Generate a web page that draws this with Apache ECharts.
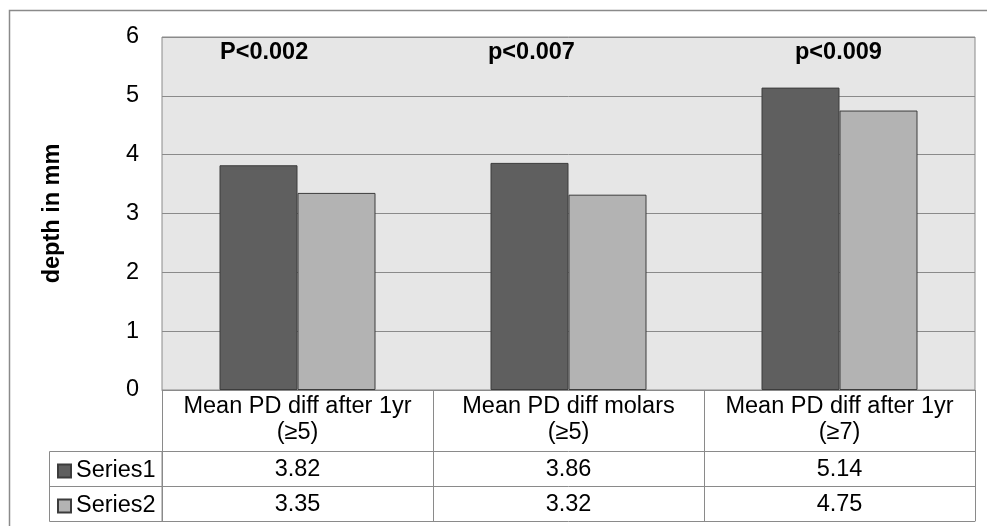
<!DOCTYPE html>
<html>
<head>
<meta charset="utf-8">
<script src="https://cdn.jsdelivr.net/npm/echarts@6/dist/echarts.min.js"></script>
<style>
html,body{margin:0;padding:0;background:#fff;}
#chart{width:987px;height:526px;}
</style>
</head>
<body>
<div id="chart"></div>
<script>
// ---- data ----
const categories = ['Mean PD diff after 1yr\n(≥5)', 'Mean PD diff molars\n(≥5)', 'Mean PD diff after 1yr\n(≥7)'];
const seriesNames = ['Series1', 'Series2'];
const series1 = [3.82, 3.86, 5.14];
const series2 = [3.35, 3.32, 4.75];
const pLabels = ['P<0.002', 'p<0.007', 'p<0.009'];
const yTicks = [0, 1, 2, 3, 4, 5, 6];

// ---- layout ----
const FONT = 'Liberation Sans, Arial, Helvetica, sans-serif';
const FS = 23.5;
const LINE = '#8a8a8a';
const gridLeft = 162, gridRight = 987 - 975, gridTop = 37, gridBottomY = 390;
const catRowH = 61, dataRowH = 35;
const pLabelX = [220, 488, 795];

const chart = echarts.init(document.getElementById('chart'), null, {renderer: 'canvas'});

function rowAxis(offset, labels, tickLen, labelOpts) {
  return {
    type: 'category', data: labels, position: 'bottom', offset: offset, gridIndex: 0,
    boundaryGap: true,
    axisLine: {show: true, lineStyle: {color: LINE, width: 1}},
    axisTick: {show: tickLen > 0, length: tickLen, interval: 0, lineStyle: {color: LINE, width: 1}},
    axisLabel: Object.assign({show: true, interval: 0, color: '#000', fontFamily: FONT, fontSize: FS}, labelOpts || {}),
    splitLine: {show: false}
  };
}

const option = {
  backgroundColor: '#fff',
  animation: false,
  grid: {
    left: gridLeft, right: gridRight, top: gridTop, bottom: 526 - gridBottomY,
    show: true, backgroundColor: '#e6e6e6', borderColor: LINE, borderWidth: 1
  },
  legend: [
    {data: [seriesNames[0]], orient: 'vertical', left: 52, top: 454, itemWidth: 13, itemHeight: 13, itemGap: 0,
     textStyle: {color: '#000', fontFamily: FONT, fontSize: FS}, icon: 'rect'},
    {data: [seriesNames[1]], orient: 'vertical', left: 52, top: 489, itemWidth: 13, itemHeight: 13, itemGap: 0,
     textStyle: {color: '#000', fontFamily: FONT, fontSize: FS}, icon: 'rect'}
  ],
  xAxis: [
    rowAxis(0, categories, catRowH, {margin: 30, lineHeight: 26, verticalAlign: 'middle', align: 'center'}),
    rowAxis(catRowH, series1.map(v => v.toFixed(2)), dataRowH, {margin: 19, verticalAlign: 'middle'}),
    rowAxis(catRowH + dataRowH, series2.map(v => v.toFixed(2)), dataRowH, {margin: 19, verticalAlign: 'middle'}),
    rowAxis(catRowH + 2 * dataRowH, categories, 0, {show: false})
  ],
  yAxis: {
    type: 'value', min: yTicks[0], max: yTicks[yTicks.length - 1], interval: 1,
    name: 'depth in mm', nameLocation: 'middle', nameRotate: 90, nameGap: 97,
    nameTextStyle: {color: '#000', fontFamily: FONT, fontSize: FS, fontWeight: 'bold'},
    axisLine: {show: false}, axisTick: {show: false},
    axisLabel: {color: '#000', fontFamily: FONT, fontSize: FS, margin: 23},
    splitLine: {show: true, lineStyle: {color: LINE, width: 1}}
  },
  series: [
    {name: seriesNames[0], type: 'bar', data: series1, xAxisIndex: 0, barWidth: 78, barGap: '0%',
     itemStyle: {color: '#5f5f5f', borderColor: '#3c3c3c', borderWidth: 1}},
    {name: seriesNames[1], type: 'bar', data: series2, xAxisIndex: 0, barWidth: 78, barGap: '0%',
     itemStyle: {color: '#b3b3b3', borderColor: '#3c3c3c', borderWidth: 1}}
  ],
  graphic: [
    {type: 'rect', shape: {x: 9.5, y: 10.5, width: 990, height: 540}, style: {fill: null, stroke: LINE, lineWidth: 1.5}, silent: true, z: 0},
    {type: 'rect', shape: {x: 49.5, y: gridBottomY + catRowH + 0.5, width: gridLeft - 49.5, height: 2 * dataRowH}, style: {fill: null, stroke: LINE, lineWidth: 1}, silent: true},
    {type: 'line', shape: {x1: 49.5, y1: gridBottomY + catRowH + dataRowH + 0.5, x2: gridLeft, y2: gridBottomY + catRowH + dataRowH + 0.5}, style: {stroke: LINE, lineWidth: 1}, silent: true}
  ].concat(pLabels.map((t, i) => ({
    type: 'text', left: pLabelX[i], top: 41, z: 10,
    style: {text: t, fill: '#000', font: 'bold ' + FS + 'px ' + FONT}
  })))
};
chart.setOption(option);
</script>
</body>
</html>
